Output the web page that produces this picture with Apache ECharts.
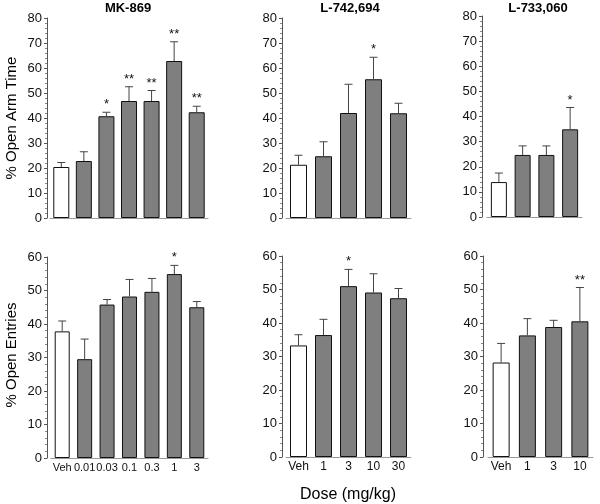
<!DOCTYPE html>
<html>
<head>
<meta charset="utf-8">
<script src="https://cdn.jsdelivr.net/npm/echarts@6/dist/echarts.min.js"></script>
<style>html,body{margin:0;padding:0;background:#fff}#c{width:600px;height:504px}</style>
</head>
<body>
<div id="c"></div>
<script>
// ---- data ----
const mkCats = ['Veh', '0.01', '0.03', '0.1', '0.3', '1', '3'];
const l742Cats = ['Veh', '1', '3', '10', '30'];
const l733Cats = ['Veh', '1', '3', '10'];

const mkTimeMean = [20.4, 22.8, 40.7, 46.8, 46.8, 62.8, 42.3];
const mkTimeSem = [1.8, 3.7, 1.6, 5.7, 4.2, 7.7, 2.4];
const mkTimeSig = ['', '', '*', '**', '**', '**', '**'];

const l742TimeMean = [21.3, 24.7, 42.0, 55.5, 41.9];
const l742TimeSem = [3.8, 5.8, 11.5, 8.8, 4.0];
const l742TimeSig = ['', '', '', '*', ''];

const l733TimeMean = [13.9, 24.7, 24.7, 34.9];
const l733TimeSem = [3.6, 3.6, 3.6, 8.7];
const l733TimeSig = ['', '', '', '*'];

const mkEntMean = [37.8, 29.5, 45.8, 48.2, 49.6, 54.9, 45.0];
const mkEntSem = [3.1, 6.0, 1.5, 5.1, 4.0, 2.6, 1.7];
const mkEntSig = ['', '', '', '', '', '*', ''];

const l742EntMean = [33.3, 36.4, 51.0, 49.1, 47.4];
const l742EntSem = [3.2, 4.7, 5.0, 5.6, 2.9];
const l742EntSig = ['', '', '*', '', ''];

const l733EntMean = [28.2, 36.3, 38.8, 40.5];
const l733EntSem = [5.7, 5.0, 2.0, 10.1];
const l733EntSig = ['', '', '', '**'];

const timeTicks = {min: 0, max: 80, interval: 10};
const entTicks = {min: 0, max: 60, interval: 10};

const titles = ['MK-869', 'L-742,694', 'L-733,060'];
const yNames = ['% Open Arm Time', '% Open Entries'];
const xName = 'Dose (mg/kg)';

// ---- layout ----
const FONT = 'Liberation Sans, Arial, Helvetica, sans-serif';
const panels = [
  {cats: mkCats, mean: mkTimeMean, sem: mkTimeSem, sig: mkTimeSig, ticks: timeTicks, left: 50, top: 18, width: 158, height: 200, off: 3, bw: 16, xl: false},
  {cats: l742Cats, mean: l742TimeMean, sem: l742TimeSem, sig: l742TimeSig, ticks: timeTicks, left: 286, top: 18, width: 125, height: 200, off: 4, bw: 17, xl: false},
  {cats: l733Cats, mean: l733TimeMean, sem: l733TimeSem, sig: l733TimeSig, ticks: timeTicks, left: 487, top: 16, width: 95, height: 201, off: 5, bw: 16, xl: false},
  {cats: mkCats, mean: mkEntMean, sem: mkEntSem, sig: mkEntSig, ticks: entTicks, left: 51, top: 257, width: 157, height: 201, off: 4, bw: 15, xl: true, xfs: 11},
  {cats: l742Cats, mean: l742EntMean, sem: l742EntSem, sig: l742EntSig, ticks: entTicks, left: 286, top: 256, width: 125, height: 201, off: 4, bw: 17, xl: true, xfs: 12},
  {cats: l733Cats, mean: l733EntMean, sem: l733EntSem, sig: l733EntSig, ticks: entTicks, left: 488, top: 256, width: 105, height: 201, off: 5, bw: 17, xl: true, xfs: 12}
];

const grid = [], xAxis = [], yAxis = [], series = [];
panels.forEach((p, i) => {
  grid.push({left: p.left, top: p.top, width: p.width, height: p.height});
  xAxis.push({
    type: 'category', gridIndex: i, data: p.cats, boundaryGap: true,
    axisLine: {show: true, lineStyle: {color: '#9a9a9a', width: 1}},
    axisTick: {show: false},
    axisLabel: {show: p.xl, color: '#111', fontFamily: FONT, fontSize: p.xfs || 12, margin: 4, interval: 0}
  });
  yAxis.push({
    type: 'value', gridIndex: i, min: p.ticks.min, max: p.ticks.max, interval: p.ticks.interval,
    offset: p.off,
    axisLine: {show: true, lineStyle: {color: '#555', width: 1}},
    axisTick: {show: true, length: 3, lineStyle: {color: '#555'}},
    minorTick: {show: true, splitNumber: 5, length: 2, lineStyle: {color: '#888'}},
    splitLine: {show: false},
    axisLabel: {color: '#111', fontFamily: FONT, fontSize: 13, margin: 5}
  });
  series.push({
    type: 'bar', xAxisIndex: i, yAxisIndex: i, barWidth: p.bw,
    data: p.mean.map((v, k) => ({
      value: v,
      itemStyle: {color: k === 0 ? '#ffffff' : '#7f7f7f', borderColor: '#111', borderWidth: 1}
    })),
    silent: true, animation: false
  });
  const sig = p.sig;
  series.push({
    type: 'custom', xAxisIndex: i, yAxisIndex: i, silent: true, animation: false, z: 5,
    data: p.mean.map((v, k) => [k, v, p.sem[k]]),
    renderItem: function (params, api) {
      const x = api.value(0), v = api.value(1), e = api.value(2);
      const b = api.coord([x, v]);
      const t = api.coord([x, v + e]);
      const cap = 4;
      const children = [
        {type: 'line', shape: {x1: b[0], y1: b[1], x2: t[0], y2: t[1]}, style: {stroke: '#444', lineWidth: 1}},
        {type: 'line', shape: {x1: t[0] - cap, y1: t[1], x2: t[0] + cap, y2: t[1]}, style: {stroke: '#444', lineWidth: 1}}
      ];
      const s = sig[params.dataIndex];
      if (s) {
        children.push({type: 'text', style: {text: s, x: t[0], y: t[1] - 1, align: 'center', verticalAlign: 'bottom', fill: '#111', font: '13px ' + FONT}});
      }
      return {type: 'group', children: children};
    }
  });
});

const titleX = [128, 350, 538];
const gfx = titles.map((t, k) => ({type: 'text', x: titleX[k], y: 8, style: {text: t, font: 'bold 13px ' + FONT, fill: '#000', align: 'center', verticalAlign: 'middle'}}));
gfx.push({type: 'text', x: 12, y: 118, rotation: Math.PI / 2, style: {text: yNames[0], font: '15px ' + FONT, fill: '#000', align: 'center', verticalAlign: 'middle'}});
gfx.push({type: 'text', x: 12, y: 355, rotation: Math.PI / 2, style: {text: yNames[1], font: '15px ' + FONT, fill: '#000', align: 'center', verticalAlign: 'middle'}});
gfx.push({type: 'text', x: 348, y: 495, style: {text: xName, font: '16px ' + FONT, fill: '#000', align: 'center', verticalAlign: 'middle'}});

const chart = echarts.init(document.getElementById('c'), null, {renderer: 'canvas'});
chart.setOption({
  animation: false,
  backgroundColor: '#fff',
  grid: grid, xAxis: xAxis, yAxis: yAxis, series: series,
  graphic: {elements: gfx}
});
</script>
</body>
</html>
